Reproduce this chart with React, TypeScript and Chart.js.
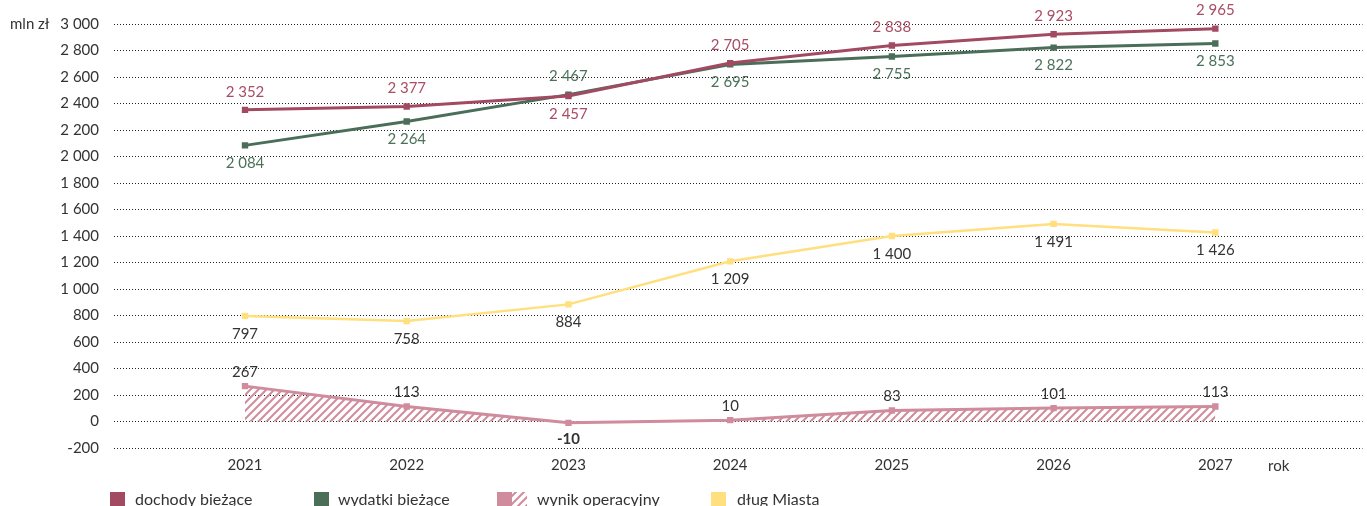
import React, { useEffect, useRef } from "react";
import { Chart, registerables } from "chart.js";

Chart.register(...registerables);

const years = [2021, 2022, 2023, 2024, 2025, 2026, 2027];
const dochody = [2352, 2377, 2457, 2705, 2838, 2923, 2965];
const wydatki = [2084, 2264, 2467, 2695, 2755, 2822, 2853];
const wynik = [267, 113, -10, 10, 83, 101, 113];
const dlug = [797, 758, 884, 1209, 1400, 1491, 1426];
const yTicks = [-200, 0, 200, 400, 600, 800, 1000, 1200, 1400, 1600, 1800, 2000, 2200, 2400, 2600, 2800, 3000];

const seriesNames = ["dochody bieżące", "wydatki bieżące", "wynik operacyjny", "dług Miasta"];
const colors = ["#A34A63", "#4A6E58", "#D08C9C", "#FFDF7E"];
const labelColors = ["#A94D66", "#4B7259", "#333333", "#333333"];
// label placement per dataset/point: true = above
const labelAbove = [
  [true, true, false, true, true, true, true],
  [false, false, true, false, false, false, false],
  [true, true, false, true, true, true, true],
  [false, false, false, false, false, false, false],
];

const FONT = "Lato, 'Open Sans', sans-serif";
const fmt = (v: number) => {
  const s = String(Math.abs(Math.round(v))).replace(/\B(?=(\d{3})+(?!\d))/g, " ");
  return (v < 0 ? "-" : "") + s;
};

function makeHatch(color: string) {
  const c = document.createElement("canvas");
  c.width = 8;
  c.height = 8;
  const ctx = c.getContext("2d")!;
  ctx.strokeStyle = color;
  ctx.lineWidth = 2;
  ctx.beginPath();
  ctx.moveTo(-2, 10);
  ctx.lineTo(10, -2);
  ctx.moveTo(-6, 6);
  ctx.lineTo(6, -6);
  ctx.moveTo(2, 14);
  ctx.lineTo(14, 2);
  ctx.stroke();
  return ctx.createPattern(c, "repeat")!;
}

export default function App() {
  const ref = useRef<HTMLCanvasElement>(null);
  useEffect(() => {
    document.body.style.margin = "0";
    const canvas = ref.current!;
    const hatch = makeHatch(colors[2]);

    const labelsPlugin = {
      id: "valueLabels",
      afterDatasetsDraw(chart: any) {
        const ctx = chart.ctx;
        ctx.save();
        ctx.textAlign = "center";
        ctx.textBaseline = "middle";
        chart.data.datasets.forEach((ds: any, di: number) => {
          const meta = chart.getDatasetMeta(di);
          meta.data.forEach((pt: any, i: number) => {
            const v = ds.data[i].y;
            const above = labelAbove[di][i];
            ctx.fillStyle = labelColors[di];
            const bold = di === 2 && v < 0;
            ctx.font = (bold ? "bold " : "") + "15px " + FONT;
            const off = di === 2 ? (above ? -14 : 16) : above ? -18 : 18;
            ctx.fillText(fmt(v), pt.x, pt.y + off);
          });
        });
        ctx.restore();
      },
      afterDraw(chart: any) {
        const ctx = chart.ctx;
        const area = chart.chartArea;
        ctx.save();
        ctx.fillStyle = "#333333";
        ctx.font = "15px " + FONT;
        ctx.textBaseline = "middle";
        ctx.textAlign = "left";
        ctx.fillText("mln zł", 10, area.top);
        ctx.fillText("rok", 1268, 466);
        // legend
        const boxX = [110, 314, 497, 711];
        const textX = [135, 338, 537, 737];
        const boxY = 492;
        ctx.font = "16px " + FONT;
        ctx.textBaseline = "alphabetic";
        seriesNames.forEach((name, i) => {
          ctx.fillStyle = colors[i];
          ctx.fillRect(boxX[i], boxY, 15, 15);
          if (i === 2) {
            ctx.fillStyle = hatch;
            ctx.fillRect(boxX[i] + 15, boxY, 15, 15);
          }
          ctx.fillStyle = "#333333";
          ctx.fillText(name, textX[i], 505);
        });
        ctx.restore();
      },
    };

    const mk = (vals: number[]) => years.map((x, i) => ({ x, y: vals[i] }));

    const chart = new Chart(canvas, {
      type: "line",
      data: {
        datasets: [
          {
            label: seriesNames[0],
            data: mk(dochody),
            borderColor: colors[0],
            backgroundColor: colors[0],
            borderWidth: 3,
            pointStyle: "rect",
            pointRadius: 4.5,
            pointBorderWidth: 0,
            order: 1,
          },
          {
            label: seriesNames[1],
            data: mk(wydatki),
            borderColor: colors[1],
            backgroundColor: colors[1],
            borderWidth: 3,
            pointStyle: "rect",
            pointRadius: 4.5,
            pointBorderWidth: 0,
            order: 2,
          },
          {
            label: seriesNames[2],
            data: mk(wynik),
            borderColor: colors[2],
            backgroundColor: hatch as any,
            pointBackgroundColor: colors[2],
            borderWidth: 3,
            pointStyle: "rect",
            pointRadius: 4.5,
            pointBorderWidth: 0,
            fill: "origin",
            order: 3,
          },
          {
            label: seriesNames[3],
            data: mk(dlug),
            borderColor: colors[3],
            backgroundColor: colors[3],
            borderWidth: 2.5,
            pointStyle: "rect",
            pointRadius: 4.5,
            pointBorderWidth: 0,
            order: 4,
          },
        ],
      },
      options: {
        animation: false,
        responsive: false,
        layout: { padding: { top: 22, right: 2, left: 0, bottom: 0 } },
        plugins: { legend: { display: false }, tooltip: { enabled: false } },
        scales: {
          x: {
            type: "linear",
            min: 2020.19,
            max: 2027.91,
            afterBuildTicks: (s: any) => {
              s.ticks = years.map((v) => ({ value: v }));
            },
            afterFit: (s: any) => {
              s.height = 58;
            },
            grid: { display: false, drawTicks: false },
            border: { display: false },
            ticks: {
              padding: 8,
              color: "#333333",
              font: { family: FONT, size: 15 },
              callback: (v: any) => String(v),
              maxRotation: 0,
              autoSkip: false,
            },
          },
          y: {
            min: -200,
            max: 3000,
            afterBuildTicks: (s: any) => {
              s.ticks = yTicks.map((v) => ({ value: v }));
            },
            afterFit: (s: any) => {
              s.width = 114;
            },
            grid: { color: "#222222", lineWidth: 1, drawTicks: false },
            border: { display: false, dash: [1, 2] },
            ticks: {
              padding: 15,
              color: "#333333",
              font: { family: FONT, size: 15 },
              callback: (v: any) => fmt(Number(v)),
            },
          },
        },
      },
      plugins: [labelsPlugin],
    });
    return () => chart.destroy();
  }, []);
  return (
    <div style={{ position: "absolute", left: 0, top: 0, width: 1367, height: 506 }}>
      <canvas ref={ref} width={1367} height={506} style={{ display: "block" }} />
    </div>
  );
}
